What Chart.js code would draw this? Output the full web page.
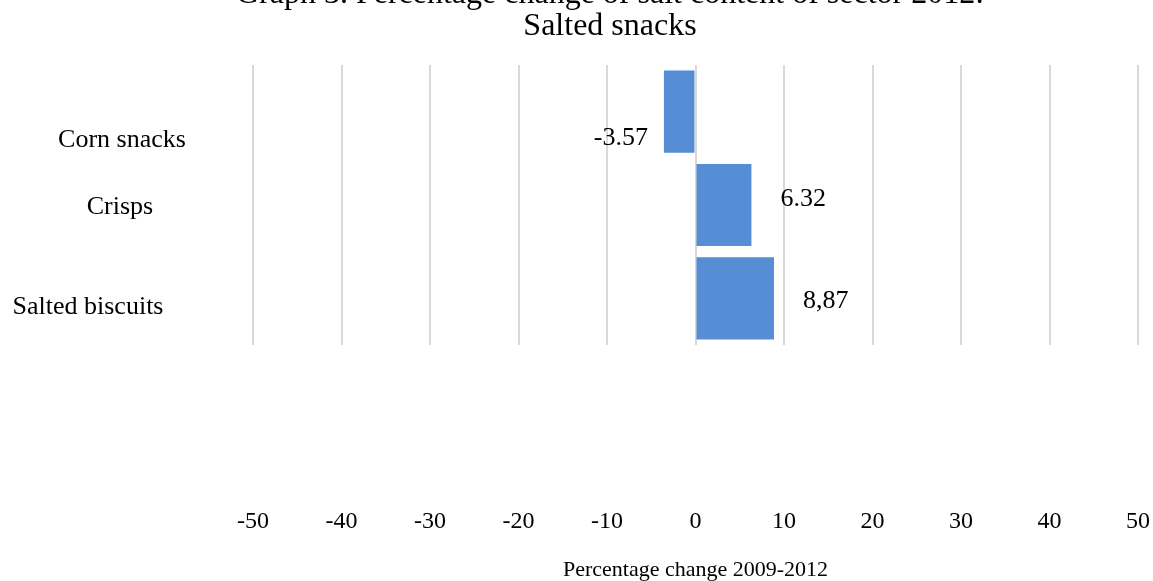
<!DOCTYPE html>
<html>
<head>
<meta charset="utf-8">
<script src="https://cdn.jsdelivr.net/npm/chart.js@4"></script>
<style>
  html, body { margin: 0; padding: 0; background: #fff; overflow: hidden; }
  #wrap { position: relative; width: 1153px; height: 581px; overflow: hidden; }
  /* top title line sits partly above the visible frame */
  #snacks { position: absolute; left: 0; top: -30px; }
</style>
</head>
<body>
<div id="wrap"><canvas id="snacks" width="1153" height="611"></canvas></div>
<script>
// data
var categories = ["Corn snacks", "Crisps", "Salted biscuits"];
var changeValues = [-3.57, 6.32, 8.87];
var valueLabels = ["-3.57", "6.32", "8,87"];
var axisMin = -50, axisMax = 50, axisStep = 10;

var serif = "'Liberation Serif', 'Times New Roman', serif";

// where the category names and value labels sit relative to their bar
var catLabelPos = [{x: 122, dy: 29}, {x: 120, dy: 2}, {x: 88, dy: 9}];
var valueLabelDy = [27, -6, 3];

// draws category names on the left and the value next to each bar
var barText = {
  id: "barText",
  afterDatasetsDraw: function(chart) {
    var ctx = chart.ctx;
    var yScale = chart.scales.y;
    var bars = chart.getDatasetMeta(0).data;
    ctx.save();
    ctx.fillStyle = "#000";
    ctx.textBaseline = "middle";
    ctx.font = "26px " + serif;
    categories.forEach(function(name, i) {
      var cy = yScale.getPixelForValue(i);
      ctx.textAlign = "center";
      ctx.fillText(name, catLabelPos[i].x, cy + catLabelPos[i].dy);

      var bar = bars[i];
      var y = bar.y + valueLabelDy[i];
      if (changeValues[i] < 0) {
        ctx.textAlign = "right";
        ctx.fillText(valueLabels[i], bar.x - 16, y);
      } else {
        ctx.textAlign = "left";
        ctx.fillText(valueLabels[i], bar.x + 29, y);
      }
    });
    ctx.restore();
  }
};

var chart = new Chart(document.getElementById("snacks"), {
  type: "bar",
  data: {
    labels: categories,
    datasets: [{
      data: changeValues,
      backgroundColor: "#558ed5",
      borderWidth: 0,
      categoryPercentage: 1.0,
      barPercentage: 0.88
    }]
  },
  options: {
    indexAxis: "y",
    responsive: false,
    animation: false,
    devicePixelRatio: 1,
    layout: { padding: { left: 82, right: 15, top: 0, bottom: 0 } },
    plugins: {
      legend: { display: false },
      tooltip: { enabled: false },
      title: {
        display: true,
        text: ["Graph 3. Percentage change of salt content of sector 2012:", "Salted snacks"],
        color: "#000",
        font: { family: serif, size: 32, weight: "normal", lineHeight: 1 },
        padding: { top: 9, bottom: 22 }
      }
    },
    scales: {
      x: {
        min: axisMin,
        max: axisMax,
        border: { display: false },
        grid: { color: "#d9d9d9", lineWidth: 2, drawTicks: false },
        ticks: {
          stepSize: axisStep,
          color: "#000",
          padding: 162,
          font: { family: serif, size: 24 }
        },
        title: {
          display: true,
          text: "Percentage change 2009-2012",
          color: "#000",
          font: { family: serif, size: 22, lineHeight: 1 },
          padding: { top: 23, bottom: 0 }
        },
        // the tick labels hang far below the bars; keep the axis box tight
        afterFit: function(scale) {
          scale.height = 236;
          scale.paddingLeft = 0;
          scale.paddingRight = 0;
        }
      },
      y: {
        border: { display: false },
        grid: { display: false },
        ticks: { display: false },
        // room on the left for the category names drawn by barText
        afterFit: function(scale) {
          scale.width = 171;
        }
      }
    }
  },
  plugins: [barText]
});
</script>
</body>
</html>
